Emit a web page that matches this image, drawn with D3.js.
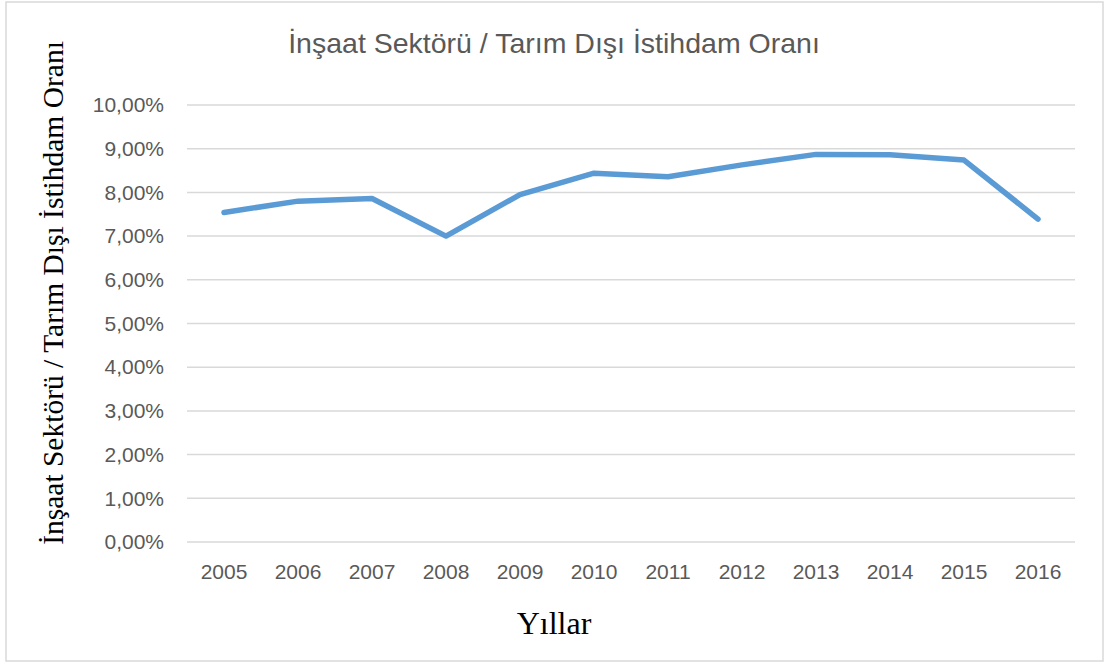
<!DOCTYPE html>
<html><head><meta charset="utf-8">
<script src="https://cdn.jsdelivr.net/npm/d3@7"></script>
<style>body{margin:0;background:#fff}svg{display:block}</style>
</head><body>
<svg id="c" width="1107" height="666"></svg>
<script>
const years = ["2005","2006","2007","2008","2009","2010","2011","2012","2013","2014","2015","2016"];
const ratio = [7.54,7.80,7.86,7.00,7.95,8.44,8.36,8.63,8.87,8.86,8.74,7.39];
const yTicks = [0,1,2,3,4,5,6,7,8,9,10];
const title = "İnşaat Sektörü / Tarım Dışı İstihdam Oranı";
const yTitle = "İnşaat Sektörü / Tarım Dışı İstihdam Oranı";
const xTitle = "Yıllar";

(function(){
const svg = d3.select("#c");
const pl = 187, pr = 1075, pt = 105, pb = 542;
const x = d3.scaleBand().domain(years).range([pl, pr]);
const y = d3.scaleLinear().domain([0, 10]).range([pb, pt]);
const sans = "'Liberation Sans', Arial, sans-serif";
const serif = "'Liberation Serif', 'Times New Roman', serif";
const grey = "#595959";

svg.append("rect").attr("x",6).attr("y",2).attr("width",1097).attr("height",659)
  .attr("fill","#fff").attr("stroke","#d9d9d9").attr("stroke-width",1.5);

svg.append("text").attr("x",554).attr("y",53).attr("text-anchor","middle")
  .style("font-family",sans).style("font-size","28.5px").attr("fill",grey).text(title);

svg.append("g").selectAll("line").data(yTicks).join("line")
  .attr("x1",pl).attr("x2",pr).attr("y1",d=>y(d)).attr("y2",d=>y(d))
  .attr("stroke","#d9d9d9").attr("stroke-width",1.5);

const fmt = d => d3.format(".2f")(d).replace(".", ",") + "%";
const yAxis = svg.append("g").attr("transform",`translate(${pl},0)`)
  .call(d3.axisLeft(y).tickValues(yTicks).tickFormat(fmt).tickSize(0).tickPadding(23));
yAxis.select(".domain").remove();
yAxis.selectAll("text").style("font-family",sans).style("font-size","21px").attr("fill",grey);

const xAxis = svg.append("g").attr("transform",`translate(0,${pb})`)
  .call(d3.axisBottom(x).tickSize(0).tickPadding(22));
xAxis.select(".domain").remove();
xAxis.selectAll("text").style("font-family",sans).style("font-size","21px").attr("fill",grey);

const line = d3.line().x((d,i)=>x(years[i])+x.bandwidth()/2).y(d=>y(d));
svg.append("path").datum(ratio).attr("d",line).attr("fill","none")
  .attr("stroke","#5b9bd5").attr("stroke-width",5.5).attr("stroke-linejoin","round").attr("stroke-linecap","round");

svg.append("text").attr("transform","translate(63,293) rotate(-90)").attr("text-anchor","middle")
  .style("font-family",serif).style("font-size","29.5px").attr("fill","#000").text(yTitle);
svg.append("text").attr("x",554).attr("y",634).attr("text-anchor","middle")
  .style("font-family",serif).style("font-size","32px").attr("fill","#000").text(xTitle);
})();
</script>
</body></html>
